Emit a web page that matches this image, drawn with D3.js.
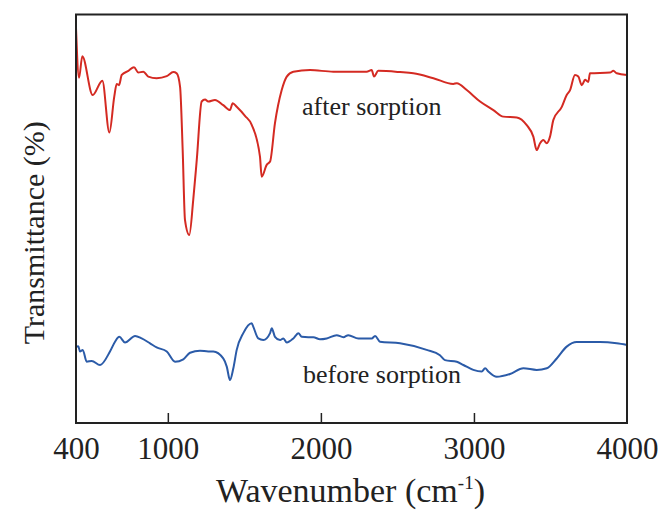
<!DOCTYPE html>
<html>
<head>
<meta charset="utf-8">
<script src="https://cdn.jsdelivr.net/npm/d3@7"></script>
<style>
  body { margin: 0; background: #fff; }
  text { font-family: "Liberation Serif", "Times New Roman", serif; fill: #222; }
</style>
</head>
<body>
<script>
// wavenumber (cm-1) and transmittance (arbitrary, 0-100)
const afterWave = [400, 420, 441, 509, 572, 618, 650, 666, 681, 699, 742, 779, 807, 840, 872, 927, 993, 1036, 1058, 1080, 1097, 1112, 1140, 1166, 1189, 1221, 1243, 1264, 1308, 1362, 1406, 1424, 1450, 1504, 1548, 1602, 1613, 1646, 1668, 1700, 1744, 1777, 1820, 1929, 2081, 2169, 2299, 2332, 2347, 2375, 2517, 2604, 2735, 2865, 2888, 2953, 3040, 3127, 3192, 3280, 3345, 3388, 3410, 3432, 3453, 3476, 3497, 3519, 3574, 3606, 3628, 3660, 3682, 3704, 3726, 3747, 3758, 3889, 3911, 3933, 4000];
const afterT = [96.7, 84.5, 89.8, 80.3, 83.8, 71.1, 79.9, 83.0, 82.7, 85.2, 86.2, 87.1, 85.8, 86.0, 84.8, 84.4, 84.9, 85.9, 85.6, 82.3, 66.8, 49.7, 46.0, 54.6, 64.4, 78.7, 79.2, 78.7, 79.1, 77.8, 76.6, 78.3, 77.4, 75.2, 73.0, 65.2, 60.3, 63.2, 64.0, 73.4, 81.5, 84.8, 86.0, 86.4, 86.0, 86.0, 86.0, 86.4, 84.8, 86.2, 85.9, 85.6, 84.4, 83.0, 83.2, 81.5, 78.7, 76.6, 75.0, 74.8, 72.9, 70.1, 66.8, 68.5, 69.3, 68.5, 70.1, 74.2, 77.4, 80.3, 81.5, 85.2, 84.8, 82.7, 84.0, 83.5, 85.6, 85.8, 86.2, 85.6, 85.2];

const beforeWave = [400, 415, 426, 444, 470, 503, 557, 622, 655, 683, 720, 786, 829, 884, 927, 993, 1047, 1101, 1145, 1210, 1264, 1297, 1362, 1385, 1406, 1428, 1450, 1493, 1548, 1558, 1591, 1624, 1668, 1679, 1700, 1733, 1755, 1777, 1820, 1853, 1875, 1918, 1951, 1994, 2038, 2103, 2147, 2179, 2245, 2332, 2354, 2386, 2517, 2691, 2778, 2811, 2888, 2931, 2996, 3051, 3073, 3094, 3149, 3236, 3323, 3410, 3476, 3541, 3606, 3672, 3824, 3933, 4000];
const beforeT = [18.7, 18.8, 17.5, 17.9, 15.0, 15.2, 14.2, 17.5, 19.9, 21.1, 19.7, 21.3, 20.7, 19.5, 18.5, 17.5, 15.0, 15.6, 17.2, 17.7, 17.5, 17.5, 15.8, 13.8, 10.5, 13.4, 17.9, 22.0, 24.4, 23.6, 20.7, 20.3, 22.0, 23.2, 21.1, 20.3, 20.7, 19.7, 20.7, 22.0, 21.1, 21.0, 21.0, 20.5, 20.7, 21.5, 21.0, 21.5, 20.7, 20.7, 21.3, 19.9, 19.5, 17.9, 16.6, 15.4, 15.0, 14.2, 13.0, 12.6, 13.4, 12.6, 11.3, 12.0, 13.4, 13.0, 13.4, 15.8, 18.7, 19.8, 19.8, 19.5, 19.1];

const xTicks = [400, 1000, 2000, 3000, 4000];

const margin = { top: 14.5, right: 37, bottom: 89, left: 76 },
  width = 664 - margin.left - margin.right,
  height = 512 - margin.top - margin.bottom;

const svg = d3.select("body").append("svg")
  .attr("width", 664)
  .attr("height", 512)
  .append("g")
  .attr("transform", `translate(${margin.left}, ${margin.top})`);

const x = d3.scaleLinear().domain([400, 4000]).range([0, width]);
const y = d3.scaleLinear().domain([0, 100]).range([height, 0]);

const line = d3.line()
  .x(d => x(d[0]))
  .y(d => y(d[1]))
  .curve(d3.curveMonotoneX);

// spectra
svg.append("path")
  .datum(afterWave.map((w, i) => [w, afterT[i]]))
  .attr("fill", "none")
  .attr("stroke", "#d42a22")
  .attr("stroke-width", 2)
  .attr("d", line);

svg.append("path")
  .datum(beforeWave.map((w, i) => [w, beforeT[i]]))
  .attr("fill", "none")
  .attr("stroke", "#2b5ba8")
  .attr("stroke-width", 2)
  .attr("d", line);

// x-axis, ticks pointing inward
svg.append("g")
  .attr("transform", `translate(0,${height})`)
  .call(d3.axisBottom(x).tickValues(xTicks).tickSize(-10).tickPadding(14).tickFormat(d3.format("d")))
  .call(g => g.select(".domain").remove())
  .call(g => g.selectAll(".tick line").attr("stroke", "#222").attr("stroke-width", 1.5)
    .filter(d => d === 400 || d === 4000).remove())
  .call(g => g.selectAll(".tick text")
    .style("font-family", "'Liberation Serif', serif")
    .style("font-size", "31px")
    .attr("fill", "#222"));

// frame
svg.append("rect")
  .attr("width", width)
  .attr("height", height)
  .attr("fill", "none")
  .attr("stroke", "#222")
  .attr("stroke-width", 2);

// axis titles
const title = svg.append("text")
  .attr("x", width / 2 - 1)
  .attr("y", height + 79)
  .attr("text-anchor", "middle")
  .style("font-size", "34px");
title.append("tspan").text("Wavenumber (cm");
title.append("tspan").attr("dy", -13).style("font-size", "19px").text("-1");
title.append("tspan").attr("dy", 13).text(")");

svg.append("text")
  .attr("transform", "rotate(-90)")
  .attr("x", -(height / 2) - 14)
  .attr("y", -32)
  .attr("text-anchor", "middle")
  .style("font-size", "30px")
  .text("Transmittance (%)");

// curve labels
svg.append("text")
  .attr("x", x(1877))
  .attr("y", y(75.4))
  .style("font-size", "26px")
  .text("after sorption");

svg.append("text")
  .attr("x", x(1883))
  .attr("y", y(9.7))
  .style("font-size", "26px")
  .text("before sorption");
</script>
</body>
</html>
